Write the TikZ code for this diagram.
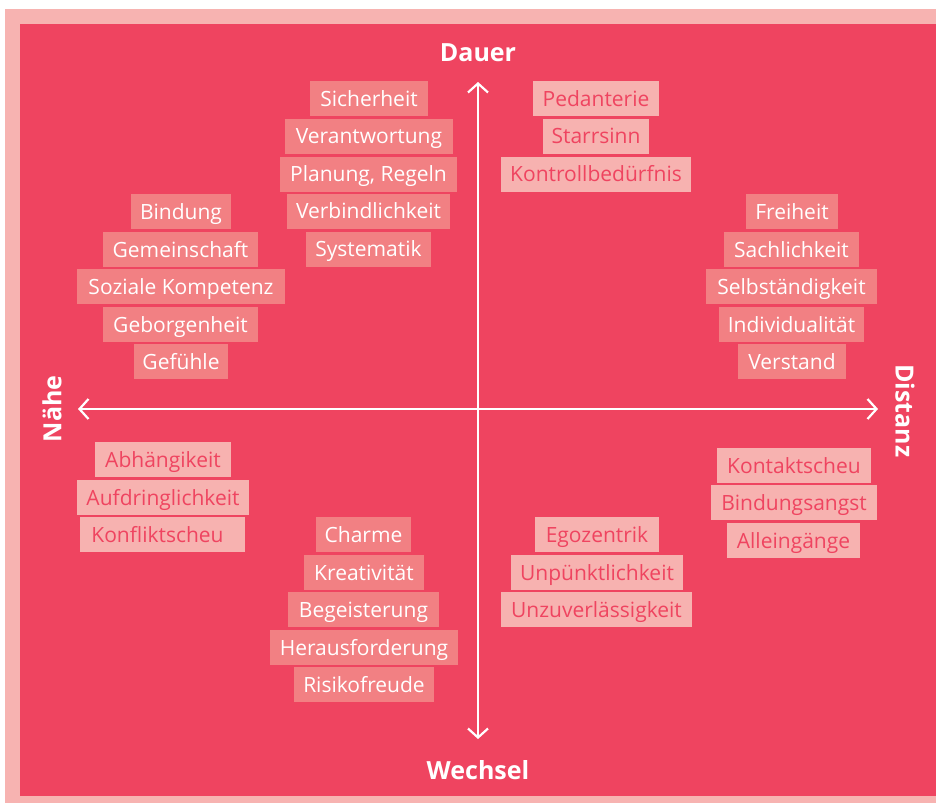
\documentclass[tikz,border=0pt]{standalone}
\usepackage{fontspec}
\setmainfont{Open Sans}
\usetikzlibrary{arrows.meta}
\definecolor{bgred}{HTML}{EF4460}
\definecolor{framecol}{HTML}{F7B3B1}
\definecolor{posfill}{HTML}{F28083}
\definecolor{negfill}{HTML}{F7B2B0}
\tikzset{
  tagbox/.style={rectangle, inner sep=0pt, minimum height=35pt, text height=17pt, text depth=2pt, font=\fontsize{21}{24}\selectfont},
  plustag/.style={tagbox, fill=posfill, text=white},
  minustag/.style={tagbox, fill=negfill, text=bgred},
  axislabel/.style={text=white, font=\fontsize{25}{28}\selectfont\bfseries, inner sep=0pt},
  axisline/.style={draw=white, line width=2.2pt, {Straight Barb[length=9pt,width=20pt,line width=2.2pt]}-{Straight Barb[length=9pt,width=20pt,line width=2.2pt]}}
}
\begin{document}
\begin{tikzpicture}[x=1pt,y=-1pt]
\useasboundingbox (0,0) rectangle (936,803);
\fill[white] (0,0) rectangle (936,803);
\fill[framecol] (5,9) rectangle (936,803);
\fill[bgred] (20,24) rectangle (936,796);

% axes
\coordinate (vt) at (478,82);
\coordinate (vb) at (478,739);
\coordinate (hl) at (78,409);
\coordinate (hr) at (878,409);
\draw[axisline] (vb) -- (vt);
\draw[axisline] (hl) -- (hr);

\node[axislabel] (dauer) at (478,53) {Dauer};
\node[axislabel] (wechsel) at (478,770) {Wechsel};
\node[axislabel, rotate=90] (naehe) at (52,409) {Nähe};
\node[axislabel, rotate=-90] (distanz) at (905,411) {Distanz};

% top middle
\node[plustag, minimum width=118pt] (sich) at (369,98.5) {Sicherheit};
\node[plustag, minimum width=168pt] (veran) at (369,136) {Verantwortung};
\node[plustag, minimum width=177pt] (plan) at (368.5,174) {Planung, Regeln};
\node[plustag, minimum width=163pt] (verb) at (368.5,211) {Verbindlichkeit};
\node[plustag, minimum width=125pt] (syst) at (368.5,249) {Systematik};

% top right negatives
\node[minustag, minimum width=126pt] (ped) at (596,98.5) {Pedanterie};
\node[minustag, minimum width=106pt] (starr) at (596,136) {Starrsinn};
\node[minustag, minimum width=190pt] (kontr) at (596,174) {Kontrollbedürfnis};

% left column
\node[plustag, minimum width=100pt] (bind) at (181,211.5) {Bindung};
\node[plustag, minimum width=155pt] (gem) at (180.5,249.5) {Gemeinschaft};
\node[plustag, minimum width=208pt] (soz) at (181,286.5) {Soziale Kompetenz};
\node[plustag, minimum width=155pt] (geb) at (180.5,324.5) {Geborgenheit};
\node[plustag, minimum width=94pt] (gef) at (181,361.5) {Gefühle};

% right column
\node[plustag, minimum width=92pt] (frei) at (792,211.5) {Freiheit};
\node[plustag, minimum width=135pt] (sach) at (791.5,249.5) {Sachlichkeit};
\node[plustag, minimum width=171pt] (selb) at (791.5,286.5) {Selbständigkeit};
\node[plustag, minimum width=145pt] (indi) at (791.5,324.5) {Individualität};
\node[plustag, minimum width=108pt] (vers) at (792,361.5) {Verstand};

% bottom left negatives
\node[minustag, minimum width=136pt] (abh) at (163,459.5) {Abhängikeit};
\node[minustag, minimum width=172pt] (aufd) at (163,497.5) {Aufdringlichkeit};
\node[minustag, minimum width=165pt] (konf) at (162.5,534.5) {\hspace*{-10pt}Konfliktscheu};

% bottom right negatives
\node[minustag, minimum width=154pt] (kont) at (794,465.5) {Kontaktscheu};
\node[minustag, minimum width=166pt] (bang) at (794,502.5) {Bindungsangst};
\node[minustag, minimum width=133pt] (alle) at (793.5,540.5) {Alleingänge};

% bottom middle
\node[plustag, minimum width=95pt] (charme) at (363.5,534.5) {Charme};
\node[plustag, minimum width=120pt] (krea) at (364,572.5) {Kreativität};
\node[plustag, minimum width=151pt] (begei) at (363.5,609.5) {Begeisterung};
\node[plustag, minimum width=188pt] (herau) at (364,647.5) {Herausforderung};
\node[plustag, minimum width=140pt] (risiko) at (364,684.5) {Risikofreude};

% bottom right middle negatives
\node[minustag, minimum width=124pt] (ego) at (597,534.5) {Egozentrik};
\node[minustag, minimum width=172pt] (unp) at (597,572.5) {Unpünktlichkeit};
\node[minustag, minimum width=191pt] (unz) at (596.5,609.5) {Unzuverlässigkeit};
\end{tikzpicture}
\end{document}
